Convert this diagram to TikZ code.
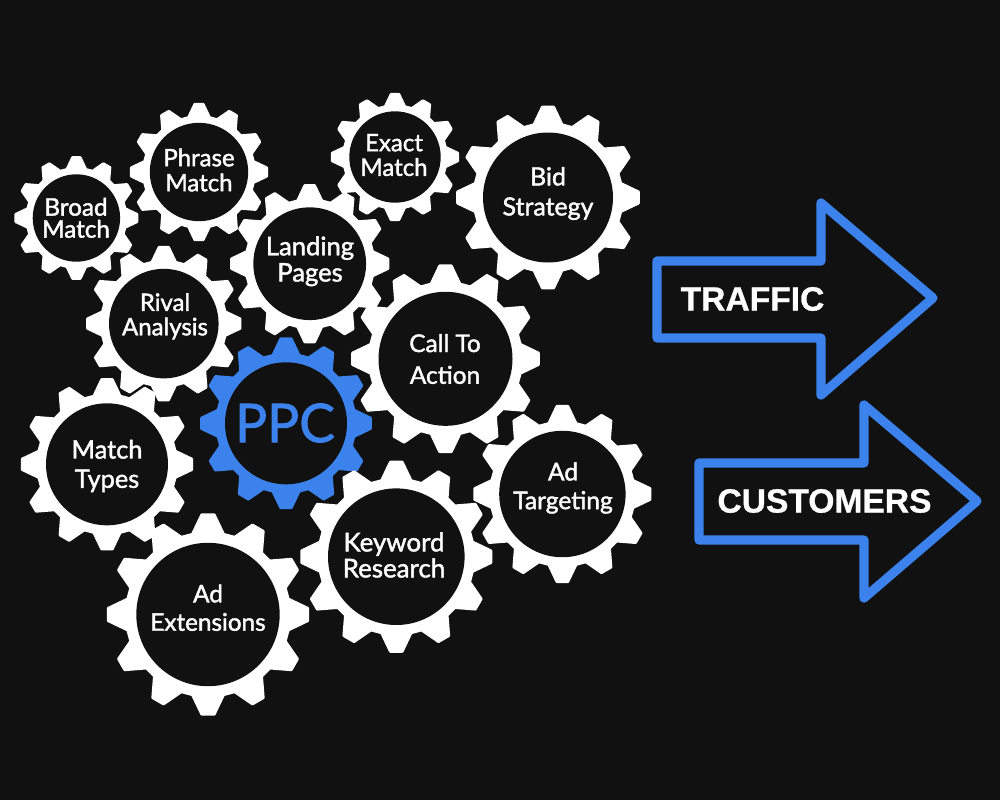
\documentclass[tikz,border=0pt]{standalone}
\usepackage{fontspec}
\setmainfont{Lato}[RawFeature={embolden=1.6}]
\newfontfamily\arrowfont{Liberation Sans}[BoldFont=* Bold,BoldFeatures={RawFeature={embolden=0.8}}]
\definecolor{bgdark}{HTML}{111111}
\definecolor{gearwhite}{HTML}{FFFFFF}
\definecolor{gearblue}{HTML}{3B82EC}
\newcommand{\gearshape}[5]{% x y tip hole colour
  \pgfmathsetmacro{\rr}{#3*0.82-1.3}
  \pgfmathsetmacro{\ti}{#3-1.3}
  \fill[#5,draw=#5,line width=2pt,line join=round,shift={(#1,#2)}]
    (79:\rr)
    \foreach \k in {0,...,11}{
      \pgfextra{\pgfmathsetmacro{\a}{90+30*\k}}
      -- ({\a-11}:\rr) -- ({\a-3.6}:\ti) -- ({\a+3.6}:\ti) -- ({\a+11}:\rr)
    } -- cycle;
}
\tikzset{
  x=0.75pt,y=-0.75pt,
  hole/.style={circle,fill=bgdark,inner sep=0pt},
  gearlabel/.style={text=white,align=center,inner sep=0pt},
  arrowline/.style={draw=gearblue,line width=6.9pt,line join=round},
  arrowlabel/.style={text=white,inner sep=0pt,font=\arrowfont\bfseries\fontsize{25.2pt}{30pt}\selectfont}
}
\newcommand{\gear}[9][]{% style name x y tip hole colour textpos label
  \gearshape{#3}{#4}{#5}{#6}{#7}
  \node[hole,minimum size={#6*1.5pt}] (#2) at (#3,#4) {};
  \node[gearlabel,#1] (#2t) at (#8) {#9};
}
\newcommand{\fs}[2]{\fontsize{#1pt}{#2pt}\selectfont}
\begin{document}
\begin{tikzpicture}
\fill[bgdark] (0,0) rectangle (1000,800);
\useasboundingbox (0,0) rectangle (1000,800);
\gear[font=\fs{18.2}{16.5}]{broad}{76.4}{218}{62}{43.7}{gearwhite}{76,217.8}{Broad\\Match}
\gear[font=\fs{18}{18.75}]{phrase}{199}{172}{69.2}{49.2}{gearwhite}{199,170}{Phrase\\Match}
\gear[font=\fs{18}{18.5}]{exact}{395}{157}{64.2}{45.7}{gearwhite}{394,155}{Exact\\Match}
\gear[font=\fs{18.7}{22.5}]{bid}{548}{197.5}{92}{65}{gearwhite}{548,193.5}{Bid\\Strategy}
\gear[font=\fs{19.2}{19.7}]{landing}{309.7}{263.7}{79.7}{56.4}{gearwhite}{310,261.3}{Landing\\Pages}
\gear[font=\fs{18}{18.3}]{rival}{163.8}{323.6}{77.8}{54.8}{gearwhite}{165,316.3}{Rival\\Analysis}
\gear[font=\fs{18.3}{23.8}]{call}{445.5}{358.8}{94.5}{67}{gearwhite}{445,359}{Call To\\Action}
\gear[font=\fs{40}{40}]{ppc}{286}{423.3}{86}{61}{gearblue}{285,423}{\textcolor{gearblue}{PPC}}
\gear[font=\fs{19}{22}]{types}{107}{464.3}{86.3}{61}{gearwhite}{107,466}{Match\\Types}
\gear[font=\fs{18.4}{21.5}]{target}{562.4}{494}{89.2}{63.2}{gearwhite}{563,488}{Ad\\Targeting}
\gear[font=\fs{19.4}{19.5}]{keyword}{396.3}{556.7}{96.2}{68.3}{gearwhite}{394,555}{Keyword\\Research}
\gear[font=\fs{18.2}{21.3}]{ext}{208}{614.5}{101.3}{71.7}{gearwhite}{208,607.7}{Ad\\Extensions}
\draw[arrowline] (657,261) -- (821,261) -- (821,203) -- (933,298) -- (821,395) -- (821,338) -- (657,338) -- cycle;
\node[arrowlabel] (traffic) at (752.5,299) {TRAFFIC};
\draw[arrowline] (699,463) -- (864,463) -- (864,405) -- (977,501) -- (864,598) -- (864,540) -- (699,540) -- cycle;
\node[arrowlabel] (customers) at (824.5,501) {CUSTOMERS};
\end{tikzpicture}
\end{document}
